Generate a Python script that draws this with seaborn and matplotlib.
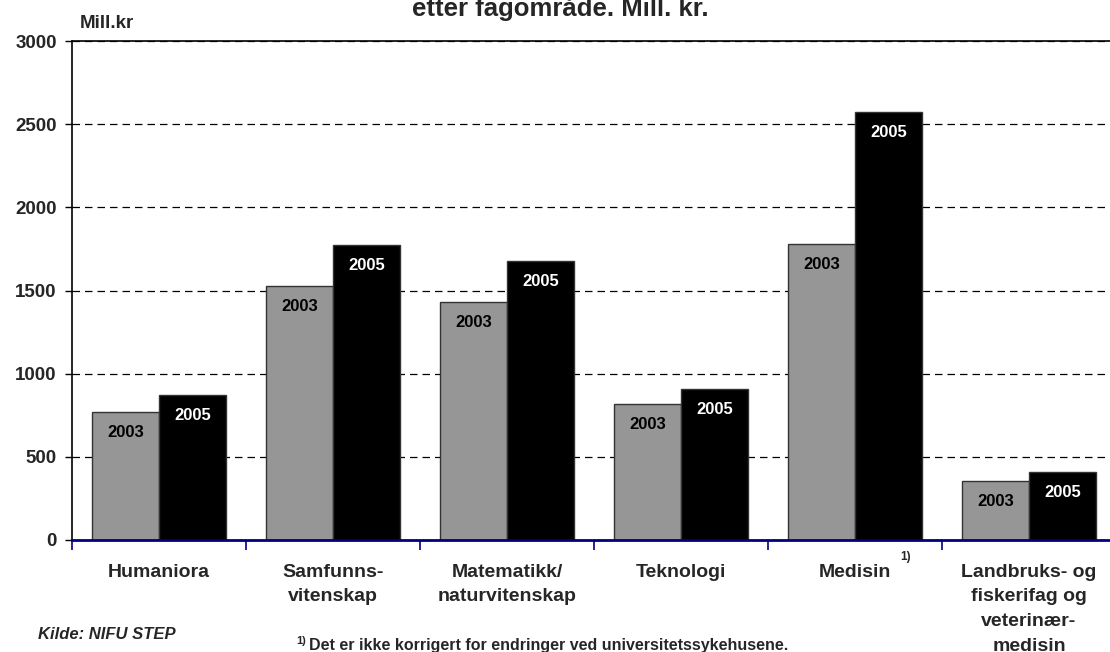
import matplotlib
matplotlib.use("Agg")
import matplotlib.pyplot as plt
import pandas as pd
import seaborn as sns

# Data (Mill. kr)
fields = ['Humaniora', 'Samfunns-\nvitenskap', 'Matematikk/\nnaturvitenskap',
          'Teknologi', 'Medisin', 'Landbruks- og\nfiskerifag og\nveterinær-\nmedisin']
years = ['2003', '2005']
values_2003 = [768, 1525, 1431, 816, 1781, 353]
values_2005 = [872, 1773, 1677, 906, 2573, 407]
yticks = [0, 500, 1000, 1500, 2000, 2500, 3000]

df = pd.DataFrame({
    'Fagområde': fields * 2,
    'År': [years[0]] * len(fields) + [years[1]] * len(fields),
    'Verdi': values_2003 + values_2005,
})

sns.set_theme(style='white')
plt.rcParams['font.family'] = ['Liberation Sans', 'DejaVu Sans']
plt.rcParams['font.weight'] = 'bold'

fig = plt.figure(figsize=(11.1, 6.52), dpi=100)
ax = fig.add_axes([72 / 1110, 112 / 652, 1044 / 1110, 499 / 652])

sns.barplot(data=df, x='Fagområde', y='Verdi', hue='År', order=fields,
            hue_order=years, palette={'2003': '#969696', '2005': '#000000'},
            width=0.77, edgecolor='#333333', linewidth=1, saturation=1,
            ax=ax, legend=False)

# year labels inside the bar tops
for cont, yr in zip(ax.containers, years):
    ax.bar_label(cont, labels=[yr] * len(cont), padding=-20,
                 color='black' if yr == '2003' else 'white',
                 fontsize=12, fontweight='bold')

ax.set_xlim(-0.5, len(fields) - 0.5)
ax.set_ylim(0, 3000)
ax.set_yticks(yticks)
ax.set_yticklabels([str(t) for t in yticks])
ax.set_xlabel('')
ax.set_ylabel('')

ax.set_axisbelow(True)
ax.yaxis.grid(True, linestyle=(0, (6, 4)), color='black', linewidth=0.9)
ax.xaxis.grid(False)

for s in ['left', 'top']:
    ax.spines[s].set_color('black')
    ax.spines[s].set_linewidth(1.2)
ax.spines['right'].set_visible(False)
ax.spines['bottom'].set_color('#000080')
ax.spines['bottom'].set_linewidth(2)

ax.tick_params(axis='y', left=True, length=5, width=1, color='black',
               pad=6, labelsize=13.5)
ax.tick_params(axis='x', which='major', bottom=False, pad=11, labelsize=14)
ax.set_xticks([i - 0.5 for i in range(len(fields) + 1)], minor=True)
ax.tick_params(axis='x', which='minor', bottom=True, length=7, width=1.2,
               color='#000080')
for lab in ax.get_xticklabels():
    lab.set_fontweight('bold')
    lab.set_linespacing(1.6)
    lab.set_verticalalignment('top')
for lab in ax.get_yticklabels():
    lab.set_fontweight('bold')

# footnote mark after Medisin
fig.text(900 / 1110, 1 - 557 / 652, '1)', fontsize=8.5, fontweight='bold',
         ha='left', va='center')

fig.text(0.505, 1 - 16 / 652, 'etter fagområde. Mill. kr.', fontsize=18.5,
         fontweight='bold', ha='center', va='baseline')
fig.text(80 / 1110, 1 - 28 / 652, 'Mill.kr', fontsize=13.5,
         fontweight='bold', ha='left', va='baseline')
fig.text(38 / 1110, 1 - 639 / 652, 'Kilde: NIFU STEP', fontsize=12,
         fontweight='bold', style='italic', ha='left', va='baseline')
fig.text(296 / 1110, 1 - 644 / 652, '1)', fontsize=8, fontweight='bold',
         ha='left', va='baseline')
fig.text(309 / 1110, 1 - 650 / 652,
         'Det er ikke korrigert for endringer ved universitetssykehusene.',
         fontsize=11.5, fontweight='bold', ha='left', va='baseline')

fig.savefig('out.png', dpi=100)
